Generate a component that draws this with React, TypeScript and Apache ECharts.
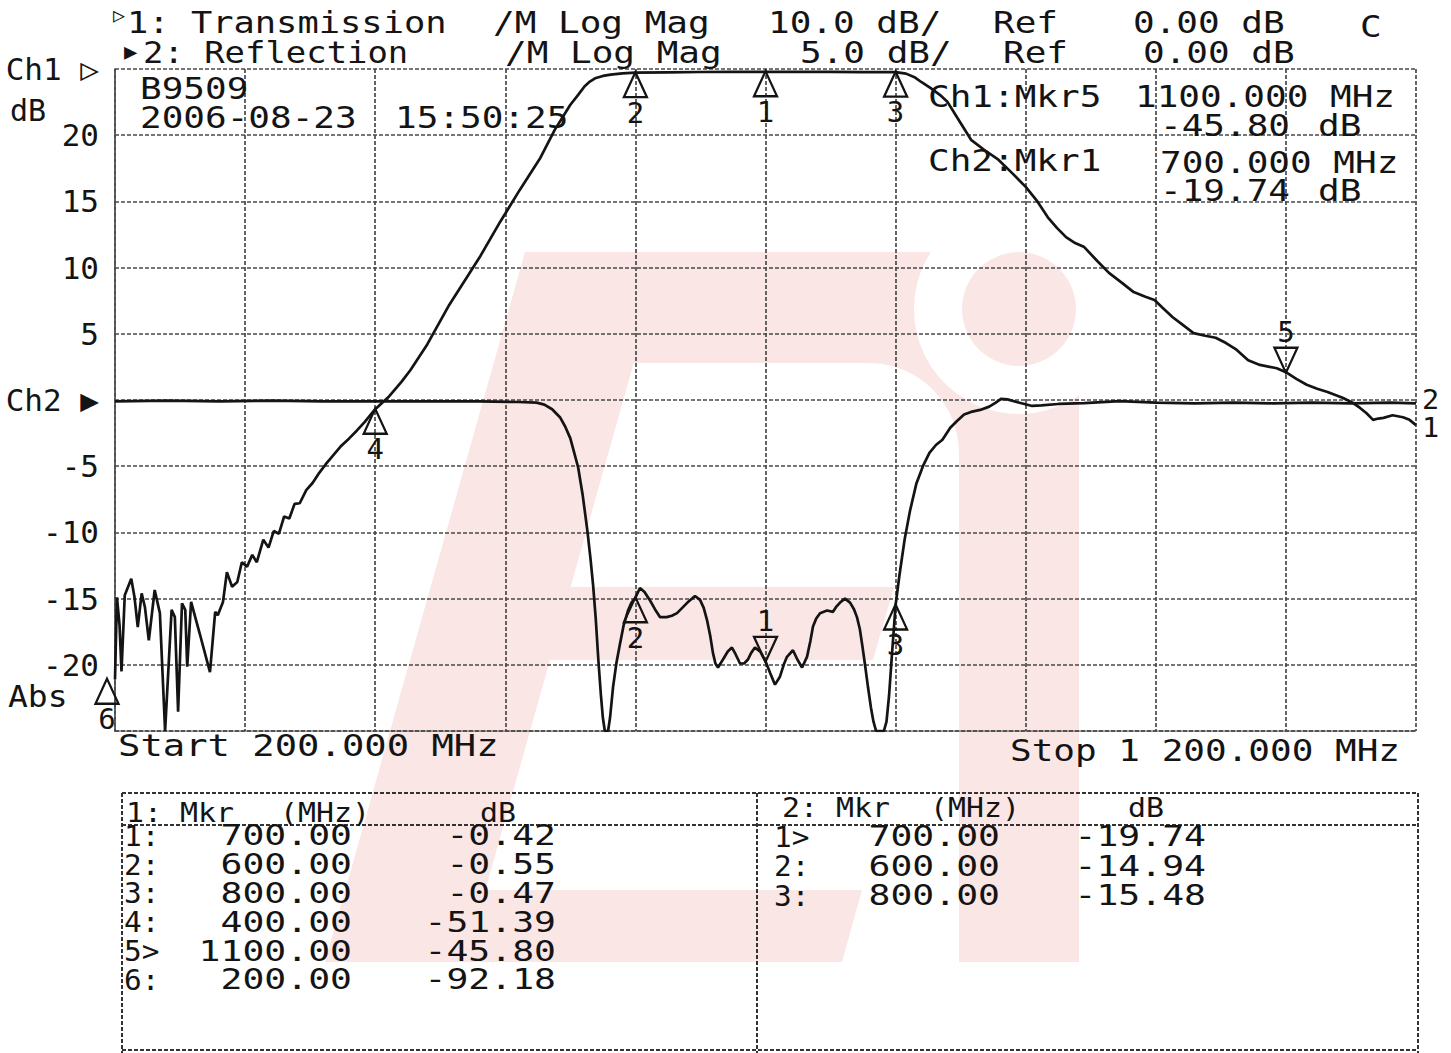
import React, { useEffect, useRef } from "react";
import * as echarts from "echarts";

const FONT = '"DejaVu Sans Mono", monospace';
const INK = "#141414";
const PINK = "#fbe6e6";

// ---- axes ----
const freqMin = 200;
const freqMax = 1200;
const freqStep = 100;
const ch2Min = -25;
const ch2Max = 25;
const ch2Step = 5;
const ch1Min = -100;
const ch1Max = 0;
const ch1Step = 10;
const ch2TickValues = [25, 20, 15, 10, 5, 0, -5, -10, -15, -20, -25];
const ch2TickLabels = ["Ch1 ▷", "20", "15", "10", "5", "Ch2 ▶", "-5", "-10", "-15", "-20", ""];

// ---- Ch1 : Transmission (10 dB/div, ref 0 dB at top) ----
const transFreq = [
  200, 201.5, 203.5, 205, 207.5, 212.5, 215, 217.5, 220.5, 223, 226, 230.5, 234.5, 238.5, 243.5, 246,
  248.5, 251.5, 254, 255.5, 258.5, 265, 273, 277, 279, 283, 286, 290, 294, 297.5, 301.5, 305.5, 309,
  314, 318, 322, 326, 330, 334, 338, 342, 347, 352, 357, 362, 368, 374, 380, 386, 392, 400, 410, 420,
  427, 440, 457, 470, 481, 496, 511, 527, 538, 550, 556, 561, 565, 569, 575, 581, 590, 600, 625, 650,
  675, 700, 725, 750, 775, 800, 808, 815, 820, 827, 834, 840, 846, 852, 858, 868, 879, 890, 900, 909,
  917, 924, 931, 938, 945, 955, 964, 974, 983, 992, 999, 1006, 1013, 1021, 1029, 1038, 1046, 1054,
  1062, 1071, 1080, 1093, 1100, 1108, 1116, 1124, 1132, 1144, 1152, 1157, 1162, 1167, 1171, 1175,
  1182, 1190, 1195, 1200,
];
const transDb = [
  -92.18, -79.8, -84, -91, -79.5, -77, -79.8, -84.3, -79.2, -81.3, -86.3, -78.7, -82.2, -100, -81.7, -82.8,
  -97.1, -80.7, -81.7, -90.3, -80.5, -85.2, -91.1, -82, -82.5, -80.5, -76, -78.2, -77.5, -74.5, -75.2, -73.4, -74.5,
  -71.1, -72.3, -69.8, -70.2, -67.6, -67.9, -65.7, -65.6, -63.6, -62.5, -61.0, -59.7, -58.3, -56.9, -55.8, -54.6, -53.3, -51.39, -49.6, -47.3,
  -45.5, -41.6, -35.6, -31.6, -28.2, -23.1, -18.3, -13.4, -9.2, -5.4, -3.9, -2.6, -1.9, -1.4, -1.05, -0.85, -0.65, -0.55, -0.5, -0.45,
  -0.43, -0.42, -0.43, -0.44, -0.46, -0.47, -0.7, -1.3, -2.0, -2.9, -3.9, -5.0, -6.9, -8.8, -10.7, -12.2, -13.7, -15.8, -17.8, -20.0,
  -22.4, -24.0, -25.4, -26.3, -26.9, -29.0, -30.8, -32.3, -33.7, -34.4, -34.9, -36.2, -37.5, -38.7, -39.9, -40.3, -40.6, -41.4,
  -42.4, -44.0, -44.7, -45.2, -45.8, -46.8, -47.7, -48.3, -48.8, -49.7, -50.5, -51.2, -52.0, -53.0, -52.8, -52.7,
  -52.3, -52.6, -53.0, -53.8,
];

// ---- Ch2 : Reflection (5 dB/div, ref 0 dB at centre) ----
const reflFreq = [
  200, 240, 280, 320, 360, 400, 440, 480, 510, 524, 530, 536, 542, 546, 550, 553, 556, 559.5, 563, 565.5,
  567.5, 569.5, 571.5, 573.5, 575, 576.5, 579, 580.5, 582.8, 585.5, 588.2, 591, 594.3, 597, 600, 603.5,
  607, 611, 615, 619, 624, 628, 632, 636, 640, 645.8, 649.7, 652.5, 655, 657.5, 659.6, 661.5, 663.5, 667.3,
  671, 674.2, 677, 680.4, 683.5, 686.5, 689, 691.9, 696, 700, 703.5, 707.3, 711.1, 714, 716.5, 721.1, 724.5,
  728.1, 731.9, 734.5, 736.5, 739, 741.9, 747.3, 751.9, 754.5, 757.3, 761.1, 765, 768, 770.3, 772.5, 774.2,
  776.5, 778.8, 781, 783, 785, 791, 793, 795, 797, 798.5, 800, 803, 807, 811, 816, 821, 826, 831, 836, 842,
  847, 852.6, 858, 865, 872, 877, 881, 886, 893, 899, 905, 912, 925, 945, 972, 1000, 1030, 1060, 1090,
  1120, 1150, 1180, 1200,
];
const reflDb = [
  -0.1, -0.05, -0.1, -0.05, -0.1, -0.1, -0.1, -0.1, -0.15, -0.2, -0.35, -0.7, -1.3, -2.0, -2.9, -4.0, -5.1, -7.2, -9.8, -12.0,
  -14.0, -16.5, -19.6, -22.3, -24.0, -25, -25, -24.0, -21.7, -19.8, -18.4, -17.0, -15.9, -15.3, -14.94, -14.2,
  -14.5, -15.1, -15.8, -16.4, -16.4, -16.3, -16.1, -15.7, -15.3, -14.8, -15.1, -15.7, -16.6, -17.8, -19.1, -19.9, -20.2, -19.6,
  -19.0, -18.7, -19.2, -19.9, -19.9, -19.6, -19.1, -18.7, -19.0, -19.74, -20.6, -21.5, -20.9, -20.0, -19.4, -18.9, -19.6,
  -20.2, -19.4, -18.2, -17.1, -16.5, -16.1, -15.9, -16.0, -15.6, -15.3, -15.0, -15.3, -15.8, -16.4, -17.3, -18.4,
  -20.0, -21.7, -23.2, -24.3, -25, -25, -24.3, -22.3, -19.5, -17.5, -15.48, -13.2, -10.5, -8.4, -6.3, -5.0, -4.0, -3.4, -3.0, -2.1,
  -1.6, -1.1, -0.9, -0.75, -0.5, -0.2, 0.08, 0.05, -0.15, -0.3, -0.45, -0.4, -0.3, -0.23, -0.08, -0.2, -0.25, -0.2, -0.25,
  -0.2, -0.25, -0.2, -0.25,
];

// ---- markers (also listed in the tables) ----
const ch1MkrNames = ["1:", "2:", "3:", "4:", "5>", "6:"];
const ch1MkrFreq = [700, 600, 800, 400, 1100, 200];
const ch1MkrDb = [-0.42, -0.55, -0.47, -51.39, -45.8, -92.18];
const ch2MkrNames = ["1>", "2:", "3:"];
const ch2MkrFreq = [700, 600, 800];
const ch2MkrDb = [-19.74, -14.94, -15.48];

const gridLine = { color: "#4a4a4a", width: 1.7, type: [4, 2] as any };

function txt(text: string, x: number, y: number, o: any = {}) {
  const align = o.align || "left";
  return {
    type: "text",
    x,
    y,
    scaleX: o.sx ?? 1.2,
    z: 50,
    silent: true,
    style: {
      text,
      x: 0,
      y: 0,
      fill: INK,
      fontFamily: FONT,
      fontSize: o.size ?? 30,
      textAlign: align,
      align,
      textVerticalAlign: "middle",
      verticalAlign: "middle",
    },
  };
}

function line(x1: number, y1: number, x2: number, y2: number) {
  return {
    type: "line",
    z: 40,
    silent: true,
    shape: { x1, y1, x2, y2 },
    style: { stroke: "#333333", lineWidth: 2, lineDash: [4, 2] },
  };
}

function watermark() {
  const els: any[] = [];
  const base = { z: -10, silent: true, style: { fill: PINK } };
  els.push({ ...base, type: "polygon", shape: { points: [[525, 252], [665, 252], [465, 962], [325, 962]] } });
  const cx = 1019, cy = 309, R = 105;
  const pts: number[][] = [[525, 252]];
  const yTop = 252;
  const xTop = cx - Math.sqrt(R * R - (cy - yTop) * (cy - yTop));
  pts.push([xTop, yTop]);
  const a1 = Math.atan2(yTop - cy, xTop - cx) + 2 * Math.PI;
  const xR = 1079;
  const a2 = Math.atan2(Math.sqrt(R * R - (xR - cx) * (xR - cx)), xR - cx);
  for (let i = 0; i <= 24; i++) {
    const a = a1 + (a2 - a1) * (i / 24);
    pts.push([cx + R * Math.cos(a), cy + R * Math.sin(a)]);
  }
  pts.push([1079, 962], [959, 962], [959, 453]);
  for (let i = 0; i <= 12; i++) {
    const a = -(Math.PI / 2) * (i / 12);
    pts.push([869 + 90 * Math.cos(a), 453 + 90 * Math.sin(a)]);
  }
  pts.push([634, 363]);
  els.push({ ...base, type: "polygon", shape: { points: pts } });
  els.push({ ...base, type: "polygon", shape: { points: [[560, 587], [894, 587], [873, 660], [530, 660]] } });
  els.push({ ...base, type: "polygon", shape: { points: [[400, 890], [862, 890], [842, 962], [330, 962]] } });
  els.push({ ...base, type: "circle", shape: { cx, cy, r: 57 } });
  return els;
}

function markerItem(f: number, v: number, name: string, dx = 0) {
  const active = name.endsWith(">");
  const num = name.charAt(0);
  return {
    value: [f, v],
    name: num,
    symbol: "triangle",
    symbolSize: [23, 25],
    symbolRotate: active ? 180 : 0,
    symbolOffset: [dx, active ? -12 : 12],
    label: {
      show: true,
      position: active ? "top" : "bottom",
      distance: 0,
      formatter: num,
      fontFamily: FONT,
      fontSize: 29,
      color: INK,
    },
  };
}

export default function App() {
  const ref = useRef<HTMLDivElement>(null);

  useEffect(() => {
    if (!ref.current) return;
    const chart = echarts.init(ref.current, undefined, { renderer: "svg" });

    const transData = transFreq.map((f, i) => [f, transDb[i]]);
    const reflData = reflFreq.map((f, i) => [f, reflDb[i]]);
    const ch1Markers = ch1MkrFreq.map((f, i) => markerItem(f, ch1MkrDb[i], ch1MkrNames[i], f === freqMin ? -8 : 0));
    const ch2Markers = ch2MkrFreq.map((f, i) => markerItem(f, ch2MkrDb[i], ch2MkrNames[i]));

    const g: any[] = [...watermark()];
    // header
    g.push(txt("▷", 113, 15, { size: 20, sx: 1 }));
    g.push(txt("1: Transmission", 127, 23, { sx: 1.18 }));
    g.push(txt("/M Log Mag", 493, 23));
    g.push(txt("10.0 dB/", 768, 23));
    g.push(txt("Ref", 993, 23));
    g.push(txt("0.00 dB", 1133, 23));
    g.push(txt("C", 1360, 27));
    g.push(txt("▶", 124, 51, { size: 22, sx: 1 }));
    g.push(txt("2: Reflection", 143, 53, { sx: 1.13 }));
    g.push(txt("/M Log Mag", 505, 53));
    g.push(txt("5.0 dB/", 800, 53));
    g.push(txt("Ref", 1003, 53));
    g.push(txt("0.00 dB", 1143, 53));
    // left side texts
    g.push(txt("dB", 10, 110, { sx: 1.0 }));
    g.push(txt("Abs", 8, 697, { sx: 1.1 }));
    // inside plot
    g.push(txt("B9509", 140, 89));
    g.push(txt("2006-08-23", 140, 118));
    g.push(txt("15:50:25", 395, 118));
    g.push(txt("Ch1:Mkr5", 928, 97));
    g.push(txt("1100.000 MHz", 1135, 97));
    g.push(txt(ch1MkrDb[4].toFixed(2), 1160, 126));
    g.push(txt("dB", 1318, 126));
    g.push(txt("Ch2:Mkr1", 928, 161));
    g.push(txt("700.000 MHz", 1160, 163));
    g.push(txt(ch2MkrDb[0].toFixed(2), 1160, 191));
    g.push(txt("dB", 1318, 191));
    // trace end labels
    g.push(txt("2", 1422, 400, { sx: 1.1, size: 26 }));
    g.push(txt("1", 1422, 428, { sx: 1.1, size: 26 }));
    // start / stop
    g.push(txt("Start 200.000 MHz", 118, 746, { sx: 1.24 }));
    g.push(txt("Stop 1 200.000 MHz", 1010, 751, { sx: 1.2 }));
    // table frame
    g.push(line(122, 793, 1418, 793));
    g.push(line(122, 825, 1418, 825));
    g.push(line(122, 1050, 1418, 1050));
    g.push(line(122, 793, 122, 1053));
    g.push(line(757, 793, 757, 1053));
    g.push(line(1418, 793, 1418, 1053));
    // table headers
    g.push(txt("1: Mkr", 126, 813, { size: 26, sx: 1.15 }));
    g.push(txt("(MHz)", 280, 813, { size: 26, sx: 1.15 }));
    g.push(txt("dB", 480, 813, { size: 26, sx: 1.15 }));
    g.push(txt("2: Mkr", 782, 808, { size: 26, sx: 1.15 }));
    g.push(txt("(MHz)", 930, 808, { size: 26, sx: 1.15 }));
    g.push(txt("dB", 1128, 808, { size: 26, sx: 1.15 }));
    ch1MkrNames.forEach((n, i) => {
      const y = 836 + i * 28.8;
      g.push(txt(n, 124, y, { sx: 1.05, size: 28 }));
      g.push(txt(ch1MkrFreq[i].toFixed(2), 352, y, { align: "right", size: 28, sx: 1.3 }));
      g.push(txt(ch1MkrDb[i].toFixed(2), 556, y, { align: "right", size: 28, sx: 1.3 }));
    });
    ch2MkrNames.forEach((n, i) => {
      const y = 837 + i * 29.5;
      g.push(txt(n, 774, y, { sx: 1.05, size: 28 }));
      g.push(txt(ch2MkrFreq[i].toFixed(2), 1000, y, { align: "right", size: 28, sx: 1.3 }));
      g.push(txt(ch2MkrDb[i].toFixed(2), 1206, y, { align: "right", size: 28, sx: 1.3 }));
    });

    const markerStyle = { color: "rgba(255,255,255,0)", borderColor: INK, borderWidth: 2.3, opacity: 1 };

    const option: any = {
      animation: false,
      backgroundColor: "#ffffff",
      grid: { left: 115, top: 69, width: 1301, height: 662, containLabel: false },
      xAxis: {
        type: "value",
        min: freqMin,
        max: freqMax,
        interval: freqStep,
        axisLabel: { show: false },
        axisTick: { show: false },
        axisLine: { show: true, onZero: false, lineStyle: gridLine },
        splitLine: { show: true, lineStyle: gridLine },
      },
      yAxis: [
        {
          type: "value",
          min: ch2Min,
          max: ch2Max,
          interval: ch2Step,
          axisTick: { show: false },
          axisLine: { show: true, onZero: false, lineStyle: gridLine },
          splitLine: { show: true, lineStyle: gridLine },
          axisLabel: {
            show: true,
            margin: 16,
            fontFamily: FONT,
            fontSize: 31,
            color: INK,
            verticalAlign: "middle",
            padding: [0, 0, 8, 0],
            formatter: (v: number) => {
              const i = ch2TickValues.indexOf(Math.round(v));
              return i >= 0 ? ch2TickLabels[i] : "";
            },
          },
        },
        {
          type: "value",
          min: ch1Min,
          max: ch1Max,
          interval: ch1Step,
          show: false,
          splitLine: { show: false },
        },
      ],
      series: [
        {
          name: "Transmission",
          type: "line",
          yAxisIndex: 1,
          data: transData,
          showSymbol: false,
          clip: true,
          z: 5,
          lineStyle: { color: INK, width: 2.7 },
        },
        {
          name: "Reflection",
          type: "line",
          yAxisIndex: 0,
          data: reflData,
          showSymbol: false,
          clip: true,
          z: 5,
          lineStyle: { color: INK, width: 2.7 },
        },
        {
          name: "Ch1 markers",
          type: "scatter",
          yAxisIndex: 1,
          data: ch1Markers,
          clip: false,
          z: 6,
          itemStyle: markerStyle,
        },
        {
          name: "Ch2 markers",
          type: "scatter",
          yAxisIndex: 0,
          data: ch2Markers,
          clip: false,
          z: 6,
          itemStyle: markerStyle,
        },
      ],
      graphic: { elements: g },
    };

    chart.setOption(option);
    return () => chart.dispose();
  }, []);

  return (
    <div
      ref={ref}
      style={{ position: "absolute", left: 0, top: 0, width: 1451, height: 1053, background: "#fff" }}
    />
  );
}
